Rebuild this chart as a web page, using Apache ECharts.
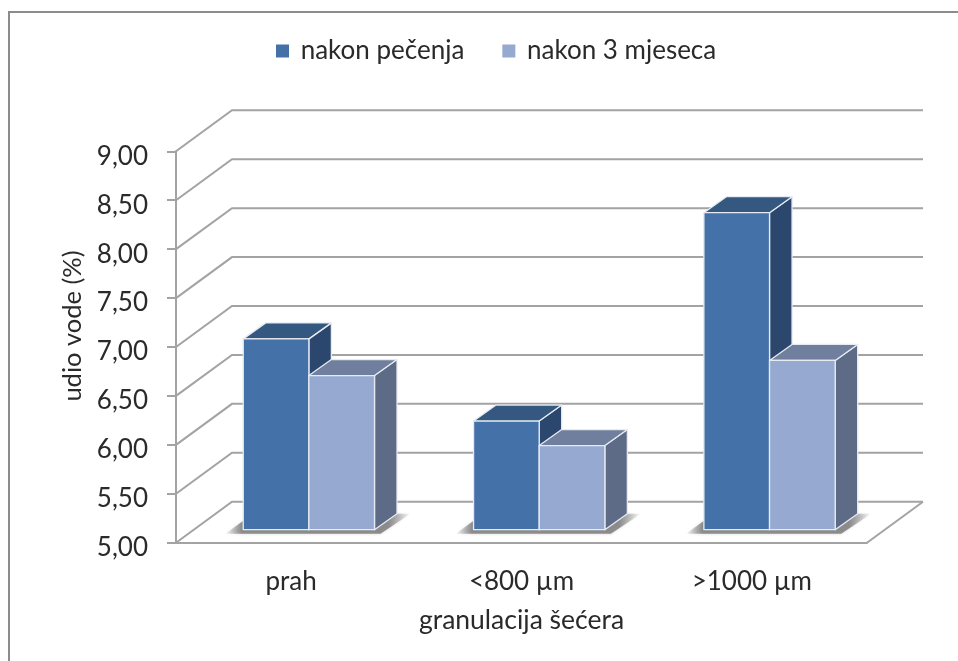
<!DOCTYPE html>
<html>
<head>
<meta charset="utf-8">
<style>
  html, body { margin: 0; padding: 0; background: #fff; }
  #chart { width: 958px; height: 661px; }
</style>
<script src="https://cdn.jsdelivr.net/npm/echarts@6/dist/echarts.min.js"></script>
</head>
<body>
<div id="chart"></div>
<script>
var categories = ['prah', '<800 µm', '>1000 µm'];
var afterBaking = [6.95, 6.11, 8.24];
var afterThreeMonths = [6.575, 5.86, 6.73];
var yTicks = [5, 5.5, 6, 6.5, 7, 7.5, 8, 8.5, 9];

// fake 3d: pixel offset of the back wall and of the bars inside the floor
var WALL_DX = 56, WALL_DY = -41;
var BAR_DX = 17.7, BAR_DY = -13;
var DEPTH_DX = 22.5, DEPTH_DY = -16;
var EDGE = '#e6ebf3';
var GRID_COLOR = '#a3a3a3';
var TEXT_COLOR = '#2a2a2a';
var FONT = 'Lato';

var chart = echarts.init(document.getElementById('chart'), null, { renderer: 'canvas' });

function poly(points, fill) {
  return {
    type: 'polygon',
    shape: { points: points },
    style: { fill: fill, stroke: EDGE, lineWidth: 1.3, lineJoin: 'round' }
  };
}

// walls: one line per tick, forward edge to back wall and along it
function renderWall(params, api) {
  var v = api.value(0);
  var left = api.coord([0, v]);
  var x0 = params.coordSys.x, x1 = x0 + params.coordSys.width;
  var y = left[1];
  var children = [{
    type: 'polyline',
    shape: { points: [[x0, y], [x0 + WALL_DX, y + WALL_DY], [x1 + WALL_DX, y + WALL_DY]] },
    style: { fill: null, stroke: GRID_COLOR, lineWidth: 2 }
  }];
  if (v === yTicks[0]) {
    children.push({
      type: 'line',
      shape: { x1: x1, y1: y, x2: x1 + WALL_DX, y2: y + WALL_DY },
      style: { stroke: GRID_COLOR, lineWidth: 2 }
    });
  }
  return { type: 'group', children: children };
}

function barBox(api, side) {
  var cat = api.value(0), val = api.value(1);
  var w = api.size([1, 0])[0] * 0.285;
  var base = api.coord([cat, yTicks[0]]);
  var top = api.coord([cat, val]);
  var xl = base[0] + BAR_DX + (side < 0 ? -w : 0);
  return { xl: xl, xr: xl + w, yt: top[1] + BAR_DY, yb: base[1] + BAR_DY };
}

function makeBarRenderer(side, front, roof, flank) {
  return function (params, api) {
    var b = barBox(api, side);
    return {
      type: 'group',
      children: [
        poly([[b.xr, b.yt], [b.xr + DEPTH_DX, b.yt + DEPTH_DY], [b.xr + DEPTH_DX, b.yb + DEPTH_DY], [b.xr, b.yb]], flank),
        poly([[b.xl, b.yt], [b.xl + DEPTH_DX, b.yt + DEPTH_DY], [b.xr + DEPTH_DX, b.yt + DEPTH_DY], [b.xr, b.yt]], roof),
        poly([[b.xl, b.yt], [b.xr, b.yt], [b.xr, b.yb], [b.xl, b.yb]], front)
      ]
    };
  };
}

// soft floor shadow under each pair of bars, fades out left and right
function renderShadow(params, api) {
  var cat = api.value(0);
  var w = api.size([1, 0])[0] * 0.285;
  var base = api.coord([cat, yTicks[0]]);
  var xl = base[0] + BAR_DX - w, xr = base[0] + BAR_DX + w, y = base[1] + BAR_DY;
  return {
    type: 'polygon',
    shape: { points: [[xl - 18, y + 4], [xr + 6, y + 4], [xr + 36, y + DEPTH_DY], [xl + 10, y + DEPTH_DY]] },
    style: {
      fill: new echarts.graphic.LinearGradient(0, 0, 1, 0, [
        { offset: 0, color: 'rgba(120,120,120,0)' },
        { offset: 0.09, color: 'rgba(120,120,120,0.8)' },
        { offset: 0.88, color: 'rgba(120,120,120,0.8)' },
        { offset: 1, color: 'rgba(120,120,120,0)' }
      ]),
      shadowBlur: 3,
      shadowColor: 'rgba(120,120,120,0.4)'
    }
  };
}

var option = {
  animation: false,
  backgroundColor: '#fff',
  textStyle: { fontFamily: FONT },
  graphic: [{
    type: 'rect',
    silent: true,
    z: -1,
    shape: { x: 9, y: 12, width: 980, height: 680 },
    style: { fill: null, stroke: '#8c8c8c', lineWidth: 2 }
  }],
  legend: {
    top: 33,
    left: 271,
    itemWidth: 13,
    itemHeight: 13,
    itemGap: 38,
    icon: 'rect',
    data: ['nakon pečenja', 'nakon 3 mjeseca'],
    formatter: function (name) { return ' ' + name; },
    textStyle: { fontFamily: FONT, fontSize: 26, color: TEXT_COLOR }
  },
  grid: { left: 176, right: 91, top: 151.3, bottom: 118.3 },
  xAxis: {
    type: 'category',
    data: categories,
    name: 'granulacija šećera',
    nameLocation: 'middle',
    nameGap: 64,
    nameTextStyle: { fontSize: 26.5, color: TEXT_COLOR },
    axisLine: { lineStyle: { color: GRID_COLOR, width: 2 } },
    axisTick: { alignWithLabel: false, length: 9, lineStyle: { color: GRID_COLOR, width: 2 } },
    axisLabel: { fontSize: 26, color: TEXT_COLOR, margin: 26 },
    splitLine: { show: false }
  },
  yAxis: {
    type: 'value',
    min: 5,
    max: 9,
    interval: 0.5,
    name: 'udio vode (%)',
    nameLocation: 'middle',
    nameGap: 90,
    nameTextStyle: { fontSize: 25.5, color: TEXT_COLOR, padding: [0, 0, 0, 42] },
    axisLine: { show: true, lineStyle: { color: GRID_COLOR, width: 2 } },
    axisTick: { show: true, length: 9, lineStyle: { color: GRID_COLOR, width: 2 } },
    axisLabel: {
      fontSize: 26,
      color: TEXT_COLOR,
      margin: 28,
      verticalAlign: 'top',
      lineHeight: 10,
      formatter: function (v) { return v.toFixed(2).replace('.', ','); }
    },
    splitLine: { show: false }
  },
  series: [
    {
      type: 'custom',
      name: 'walls',
      silent: true,
      renderItem: renderWall,
      data: yTicks.map(function (v) { return [v]; }),
      encode: { y: 0 },
      clip: false,
      z: 1
    },
    {
      type: 'custom',
      name: 'shadow',
      silent: true,
      renderItem: renderShadow,
      data: categories.map(function (c, i) { return [i]; }),
      encode: { x: 0 },
      clip: false,
      z: 2
    },
    {
      type: 'custom',
      name: 'nakon pečenja',
      renderItem: makeBarRenderer(-1, '#4571a9', '#34587f', '#2b476d'),
      data: afterBaking.map(function (v, i) { return [i, v]; }),
      encode: { x: 0, y: 1 },
      itemStyle: { color: '#4571a9' },
      clip: false,
      z: 3
    },
    {
      type: 'custom',
      name: 'nakon 3 mjeseca',
      renderItem: makeBarRenderer(1, '#96a9d0', '#6f7f9d', '#5d6b87'),
      data: afterThreeMonths.map(function (v, i) { return [i, v]; }),
      encode: { x: 0, y: 1 },
      itemStyle: { color: '#96a9d0' },
      clip: false,
      z: 4
    }
  ]
};

chart.setOption(option);
</script>
</body>
</html>
